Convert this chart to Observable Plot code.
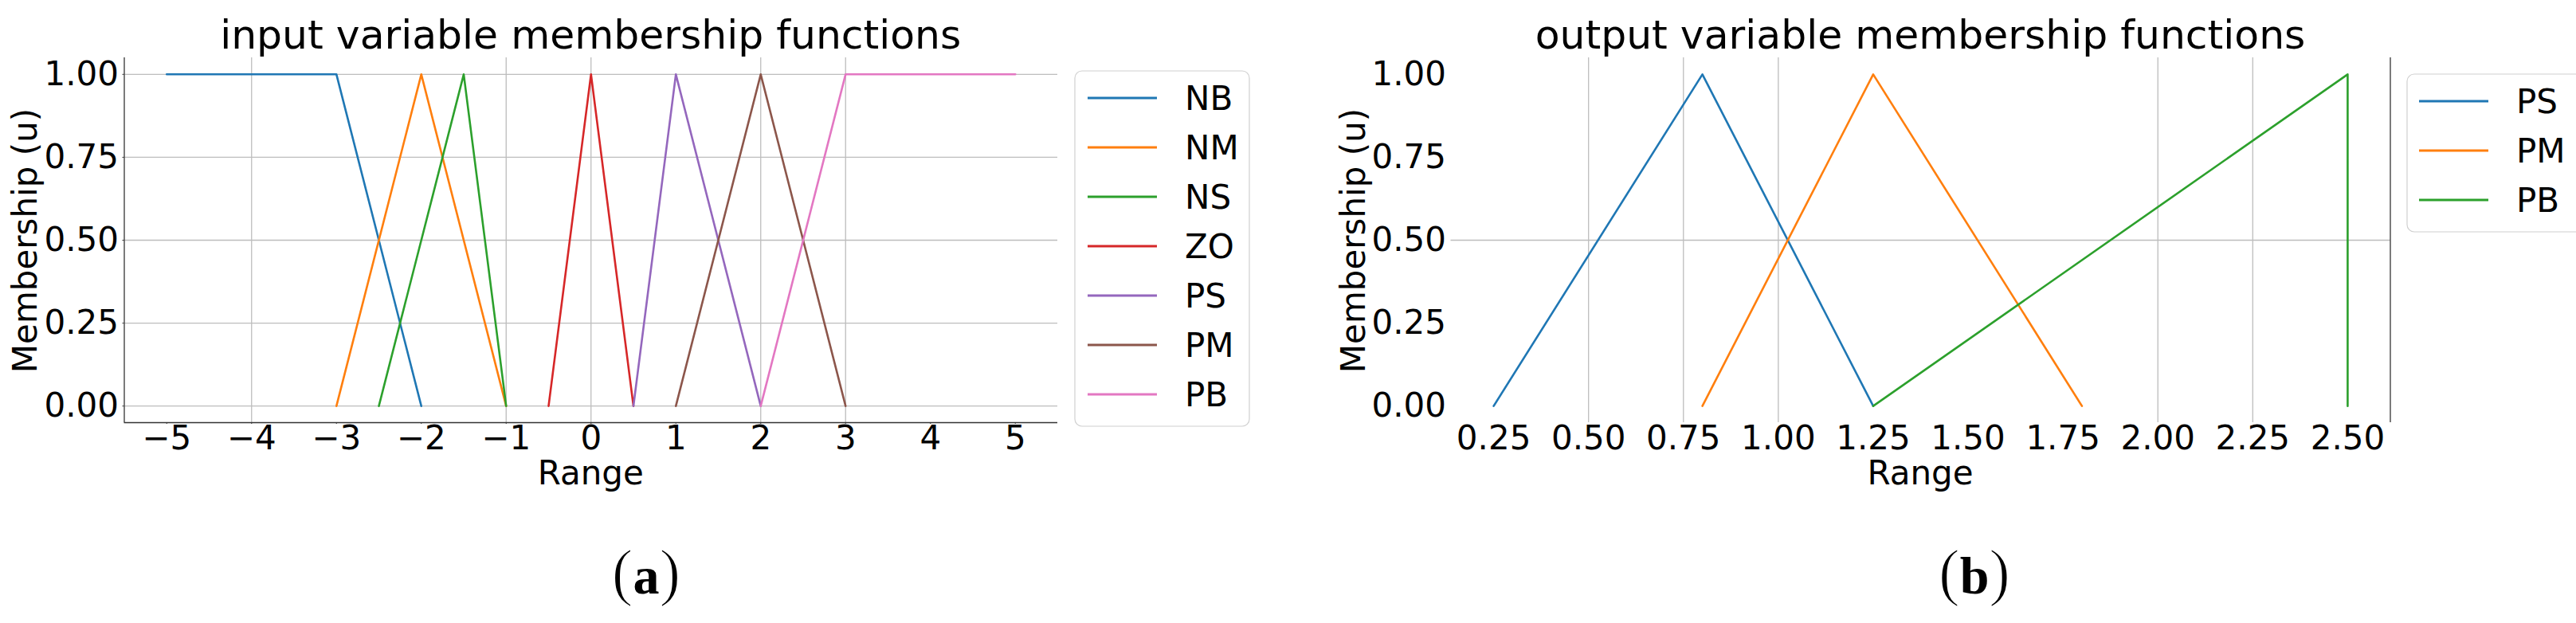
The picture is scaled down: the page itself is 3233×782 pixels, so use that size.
<!DOCTYPE html>
<html>
<head>
<meta charset="utf-8">
<script src="https://cdn.jsdelivr.net/npm/d3@7"></script>
<script src="https://cdn.jsdelivr.net/npm/@observablehq/plot@0.6"></script>
<style>
html, body { margin: 0; padding: 0; background: #fff; }
#root { position: relative; width: 3233px; height: 782px; overflow: hidden; font-family: "DejaVu Sans"; color: #000; }
#root > svg { position: absolute; }
</style>
</head>
<body>
<div id="root"></div>
<script>
// ---- data ----
const inputNames = ["NB", "NM", "NS", "ZO", "PS", "PM", "PB"];
const inputX = [[-5, -3, -2], [-3, -2, -1], [-2.5, -1.5, -1], [-0.5, 0, 0.5], [0.5, 1, 2], [1, 2, 3], [2, 3, 5]];
const inputU = [[1, 1, 0], [0, 1, 0], [0, 1, 0], [0, 1, 0], [0, 1, 0], [0, 1, 0], [0, 1, 1]];

const outputNames = ["PS", "PM", "PB"];
const outputX = [[0.25, 0.8, 1.25], [0.8, 1.25, 1.8], [1.25, 2.5, 2.5]];
const outputU = [[0, 1, 0], [0, 1, 0], [0, 1, 0]];

const inputTicks = [-5, -4, -3, -2, -1, 0, 1, 2, 3, 4, 5];
const outputTicks = [0.25, 0.5, 0.75, 1.0, 1.25, 1.5, 1.75, 2.0, 2.25, 2.5];
const uTicks = [0, 0.25, 0.5, 0.75, 1];
const inputGridX = [-4, -1, 0, 2, 3];
const outputGridX = [0.5, 0.75, 1.0, 2.0, 2.25];
const outputGridU = [0.5];

const titles = ["input variable membership functions", "output variable membership functions"];
const xLabel = "Range";
const yLabel = "Membership (u)";
const captions = ["a", "b"];

const palette = ["#1f77b4", "#ff7f0e", "#2ca02c", "#d62728", "#9467bd", "#8c564b", "#e377c2"];

// ---- build rows ----
const inputRows = inputNames.flatMap((s, i) => inputX[i].map((x, j) => ({set: s, x, u: inputU[i][j]})));
const outputRows = outputNames.flatMap((s, i) => outputX[i].map((x, j) => ({set: s, x, u: outputU[i][j]})));

const root = document.getElementById("root");
const gridStyle = {stroke: "#bdbdbd", strokeOpacity: 1, strokeWidth: 1.3};
const FS = 42;

const left = Plot.plot({
  width: 1340, height: 640,
  marginLeft: 155.5, marginRight: 13, marginTop: 72, marginBottom: 110,
  style: {fontFamily: "DejaVu Sans", fontSize: FS + "px", background: "transparent", color: "#000", overflow: "visible"},
  x: {domain: [-5.5, 5.5], label: null},
  y: {domain: [-0.05, 1.05], label: null},
  color: {domain: inputNames, range: palette},
  marks: [
    Plot.gridY(uTicks, gridStyle),
    Plot.gridX(inputGridX, gridStyle),
    Plot.axisX(inputTicks, {tickSize: 2, tickPadding: 2, tickFormat: d3.format("d"), label: null, fontSize: FS, stroke: "#333"}),
    Plot.axisY(uTicks, {tickSize: 2, tickPadding: 5, tickFormat: d3.format(".2f"), label: null, fontSize: FS, stroke: "#333"}),
    Plot.ruleX([-5.5], {stroke: "#333", strokeWidth: 1.3}),
    Plot.ruleY([-0.05], {stroke: "#333", strokeWidth: 1.3}),
    Plot.line(inputRows, {x: "x", y: "u", z: "set", stroke: "set", strokeWidth: 2.6})
  ]
});
left.style.left = "0px"; left.style.top = "0px";
root.appendChild(left);

const right = Plot.plot({
  width: 1420, height: 640,
  marginLeft: 220.5, marginRight: 20.5, marginTop: 72, marginBottom: 110,
  style: {fontFamily: "DejaVu Sans", fontSize: FS + "px", background: "transparent", color: "#000", overflow: "visible"},
  x: {domain: [0.1375, 2.6125], label: null},
  y: {domain: [-0.05, 1.05], label: null},
  color: {domain: outputNames, range: palette.slice(0, 3)},
  marks: [
    Plot.gridY(outputGridU, gridStyle),
    Plot.gridX(outputGridX, gridStyle),
    Plot.axisX(outputTicks, {tickSize: 0, tickPadding: 4, tickFormat: d3.format(".2f"), label: null, fontSize: FS}),
    Plot.axisY(uTicks, {tickSize: 0, tickPadding: 6, tickFormat: d3.format(".2f"), label: null, fontSize: FS}),
    Plot.ruleX([2.6125], {stroke: "#333", strokeWidth: 1.3}),
    Plot.line(outputRows, {x: "x", y: "u", z: "set", stroke: "set", strokeWidth: 2.6})
  ]
});
right.style.left = "1600px"; right.style.top = "0px";
root.appendChild(right);

// ---- overlay: titles, axis labels, legends, captions ----
const ov = d3.select(root).append("svg")
  .attr("width", 3233).attr("height", 782)
  .style("left", "0px").style("top", "0px")
  .attr("font-family", "DejaVu Sans").attr("fill", "#000");

const panels = [
  {cx: 741.25, ylx: 46, cap: 811, names: inputNames, colors: palette,
   box: {x: 1349, y: 89, w: 219, h: 446}, y0: 123, lx: 1365, tx: 1487},
  {cx: 2410, ylx: 1713, cap: 2478, names: outputNames, colors: palette.slice(0, 3),
   box: {x: 3021, y: 93, w: 260, h: 198}, y0: 127, lx: 3036, tx: 3158}
];

panels.forEach((p, k) => {
  ov.append("text").attr("x", p.cx).attr("y", 61).attr("text-anchor", "middle")
    .attr("font-size", 50.4).text(titles[k]);
  ov.append("text").attr("x", p.cx).attr("y", 607.5).attr("text-anchor", "middle")
    .attr("font-size", FS).text(xLabel);
  ov.append("text").attr("transform", `translate(${p.ylx},302) rotate(-90)`).attr("text-anchor", "middle")
    .attr("font-size", FS).text(yLabel);
  // legend
  ov.append("rect").attr("x", p.box.x).attr("y", p.box.y).attr("width", p.box.w).attr("height", p.box.h)
    .attr("rx", 9).attr("fill", "#fff").attr("fill-opacity", 0.8).attr("stroke", "#d0d0d0").attr("stroke-width", 1.2);
  p.names.forEach((n, i) => {
    const y = p.y0 + 62 * i;
    ov.append("line").attr("x1", p.lx).attr("x2", p.lx + 87).attr("y1", y).attr("y2", y)
      .attr("stroke", p.colors[i]).attr("stroke-width", 2.8);
    ov.append("text").attr("x", p.tx).attr("y", y + 15.3).attr("font-size", FS).text(n);
  });
  // caption
  const c = ov.append("text").attr("x", p.cap).attr("y", 745).attr("text-anchor", "middle")
    .attr("font-family", "Liberation Serif");
  c.append("tspan").attr("font-size", 80).attr("stroke", "#fff").attr("stroke-width", 1.6).text("(");
  c.append("tspan").attr("font-size", 66).attr("font-weight", "bold").text(captions[k]);
  c.append("tspan").attr("font-size", 80).attr("stroke", "#fff").attr("stroke-width", 1.6).text(")");
});
</script>
</body>
</html>
